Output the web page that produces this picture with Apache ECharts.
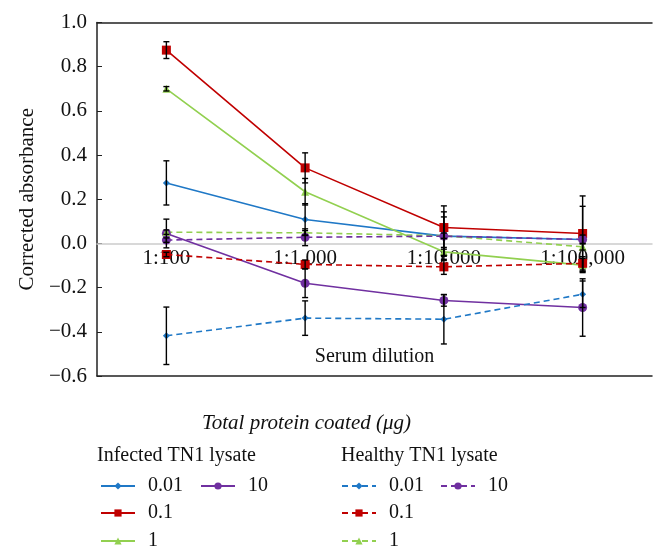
<!DOCTYPE html>
<html><head><meta charset="utf-8">
<script src="https://cdn.jsdelivr.net/npm/echarts@6/dist/echarts.min.js"></script>
<style>html,body{margin:0;padding:0;background:#fff}#c{width:665px;height:560px}</style>
</head><body><div id="c"></div>
<script>
const categories = ['1:100', '1:1,000', '1:10,000', '1:100,000'];
const yTicks = { min: -0.6, max: 1.0, interval: 0.2 };

// Infected TN1 lysate (solid)
const infected001 = [0.274, 0.108, 0.033, 0.018];
const infected01  = [0.875, 0.342, 0.072, 0.045];
const infected1   = [0.700, 0.234, -0.038, -0.098];
const infected10  = [0.045, -0.180, -0.258, -0.290];
// Healthy TN1 lysate (dashed)
const healthy001 = [-0.418, -0.338, -0.343, -0.230];
const healthy01  = [-0.050, -0.095, -0.106, -0.090];
const healthy1   = [0.051, 0.048, 0.035, -0.015];
const healthy10  = [0.015, 0.028, 0.033, 0.018];

// error bar half-lengths
const errInfected001 = [0.100, 0.072, 0.110, 0.150];
const errInfected01  = [0.038, 0.068, 0.098, 0.170];
const errInfected1   = [0.010, 0.060, 0.020, 0.030];
const errInfected10  = [0.065, 0.065, 0.026, 0.130];
const errHealthy001  = [0.130, 0.078, 0.112, 0.060];
const errHealthy01   = [0.010, 0.020, 0.034, 0.030];
const errHealthy1    = [0.010, 0.010, 0.012, 0.015];
const errHealthy10   = [0.010, 0.038, 0.087, 0.020];

const FONT = '"Liberation Serif", "DejaVu Serif", serif';
const C = { blue: '#1f78c6', red: '#c00000', green: '#92d050', purple: '#7030a0' };

const seriesDefs = [
  { name: 'Infected 0.01', data: infected001, err: errInfected001, color: C.blue,   symbol: 'diamond',  size: 7, dash: 'solid' },
  { name: 'Infected 0.1',  data: infected01,  err: errInfected01,  color: C.red,    symbol: 'rect',     size: 9, dash: 'solid' },
  { name: 'Infected 1',    data: infected1,   err: errInfected1,   color: C.green,  symbol: 'triangle', size: 8, dash: 'solid' },
  { name: 'Infected 10',   data: infected10,  err: errInfected10,  color: C.purple, symbol: 'circle',   size: 9, dash: 'solid' },
  { name: 'Healthy 0.01',  data: healthy001,  err: errHealthy001,  color: C.blue,   symbol: 'diamond',  size: 7, dash: [6, 4] },
  { name: 'Healthy 0.1',   data: healthy01,   err: errHealthy01,   color: C.red,    symbol: 'rect',     size: 9, dash: [6, 4] },
  { name: 'Healthy 1',     data: healthy1,    err: errHealthy1,    color: C.green,  symbol: 'triangle', size: 8, dash: [6, 4] },
  { name: 'Healthy 10',    data: healthy10,   err: errHealthy10,   color: C.purple, symbol: 'circle',   size: 9, dash: [6, 4] }
];

const series = [];
seriesDefs.forEach(d => {
  series.push({
    name: d.name, type: 'line', data: d.data, xAxisIndex: 0, yAxisIndex: 0,
    symbol: d.symbol, symbolSize: d.size, showAllSymbol: true,
    lineStyle: { color: d.color, width: 1.6, type: d.dash },
    itemStyle: { color: d.color }, z: 3, animation: false
  });
});
seriesDefs.forEach(d => {
  series.push({
    type: 'custom', xAxisIndex: 0, yAxisIndex: 0, z: 4, animation: false, silent: true,
    data: d.data.map((v, i) => [i, v, d.err[i]]),
    encode: { x: 0, y: 1 },
    renderItem: function (params, api) {
      const x = api.value(0), v = api.value(1), e = api.value(2);
      const top = api.coord([x, v + e]);
      const bot = api.coord([x, v - e]);
      const w = 3;
      const st = { stroke: '#000', lineWidth: 1.4 };
      return { type: 'group', children: [
        { type: 'line', shape: { x1: top[0], y1: top[1], x2: bot[0], y2: bot[1] }, style: st },
        { type: 'line', shape: { x1: top[0] - w, y1: top[1], x2: top[0] + w, y2: top[1] }, style: st },
        { type: 'line', shape: { x1: bot[0] - w, y1: bot[1], x2: bot[0] + w, y2: bot[1] }, style: st }
      ]};
    }
  });
});

function legendItem(name, left, centerY) {
  return {
    data: [name], left: left, top: centerY - 10, orient: 'horizontal',
    itemWidth: 34, itemHeight: 9, padding: 0,
    formatter: n => n.split(' ')[1],
    textStyle: { fontFamily: FONT, fontSize: 20, color: '#111', lineHeight: 20, padding: [0, 0, 0, 8] },
    selectedMode: false
  };
}

const gridPos = { left: 97, right: 13, top: 22.5, bottom: 184, containLabel: false };

const option = {
  animation: false,
  backgroundColor: '#fff',
  grid: [Object.assign({}, gridPos), Object.assign({}, gridPos)],
  xAxis: [
    { type: 'category', gridIndex: 0, data: categories, boundaryGap: true, position: 'bottom',
      axisLine: { onZero: false, lineStyle: { color: '#cccccc', width: 1.5 } },
      axisTick: { show: false },
      axisLabel: { fontFamily: FONT, fontSize: 21, color: '#111', margin: 5 },
      splitLine: { show: false }, z: 1 },
    { type: 'category', gridIndex: 1, data: categories, position: 'top',
      axisLine: { onZero: false, lineStyle: { color: '#222', width: 1.5 } },
      axisTick: { show: false }, axisLabel: { show: false } },
    { type: 'category', gridIndex: 1, data: categories, position: 'bottom',
      axisLine: { onZero: false, lineStyle: { color: '#222', width: 1.5 } },
      axisTick: { show: false }, axisLabel: { show: false },
      name: 'Serum dilution', nameLocation: 'middle', nameGap: -29,
      nameTextStyle: { fontFamily: FONT, fontSize: 20, color: '#111' } }
  ],
  yAxis: [{
    type: 'value', gridIndex: 0, min: yTicks.min, max: yTicks.max, interval: yTicks.interval,
    axisLine: { show: true, onZero: false, lineStyle: { color: '#222', width: 1.5 } },
    axisTick: { show: true, inside: true, length: 5, lineStyle: { color: '#222' } },
    splitLine: { show: false },
    axisLabel: { fontFamily: FONT, fontSize: 21, color: '#111', margin: 10,
      formatter: v => v.toFixed(1).replace('-', '\u2212') },
    name: 'Corrected absorbance', nameLocation: 'middle', nameGap: 58, nameRotate: 90,
    nameTextStyle: { fontFamily: FONT, fontSize: 21, color: '#111' }
  }, {
    type: 'value', gridIndex: 1, min: yTicks.min, max: yTicks.max, interval: yTicks.interval,
    show: false
  }],
  legend: [
    legendItem('Infected 0.01', 100, 486),
    legendItem('Infected 0.1', 100, 513),
    legendItem('Infected 1', 100, 541),
    legendItem('Infected 10', 200, 486),
    legendItem('Healthy 0.01', 341, 486),
    legendItem('Healthy 0.1', 341, 513),
    legendItem('Healthy 1', 341, 541),
    legendItem('Healthy 10', 440, 486)
  ],
  graphic: [
    { type: 'text', left: 202, top: 413, style: { text: 'Total protein coated (\u03bcg)', font: 'italic 21px ' + FONT, fill: '#111' } },
    { type: 'text', left: 97, top: 446, style: { text: 'Infected TN1 lysate', font: '20px ' + FONT, fill: '#111' } },
    { type: 'text', left: 341, top: 446, style: { text: 'Healthy TN1 lysate', font: '20px ' + FONT, fill: '#111' } }
  ],
  series: series
};

const chart = echarts.init(document.getElementById('c'), null, { renderer: 'canvas' });
chart.setOption(option);
// move the category axis (labels + grey line) up to the zero value of the y axis
const zeroY = chart.convertToPixel({ yAxisIndex: 0 }, 0);
const bottomY = chart.convertToPixel({ yAxisIndex: 0 }, yTicks.min);
chart.setOption({ xAxis: [{ offset: -(bottomY - zeroY) }, {}, {}] });
</script>
</body></html>
